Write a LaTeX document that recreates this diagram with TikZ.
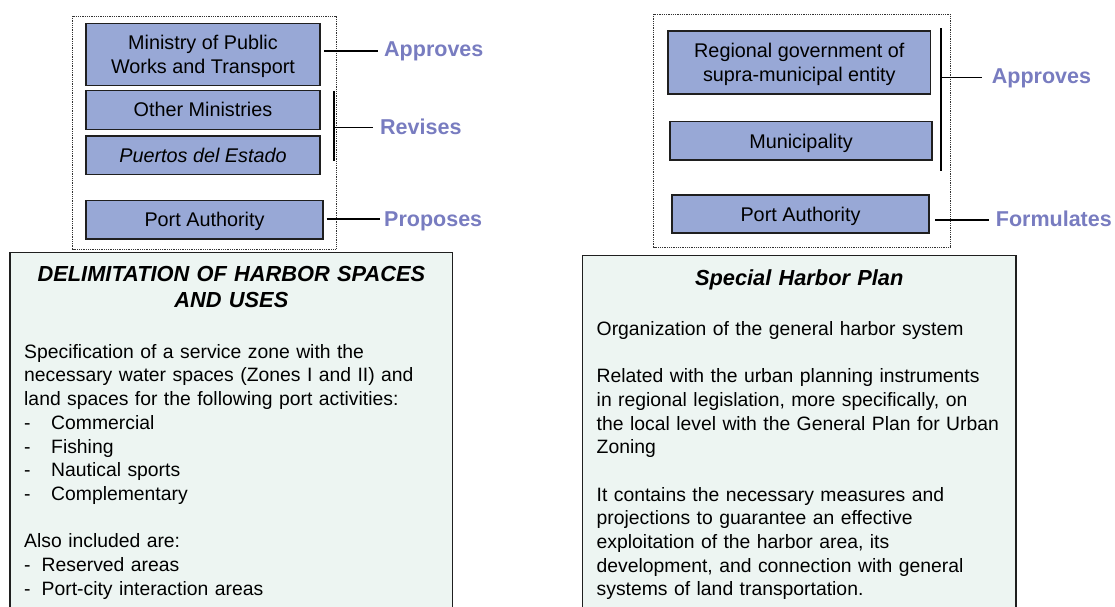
\documentclass[tikz,border=0pt]{standalone}
\usepackage{fontspec}
\setmainfont{Liberation Sans}
\definecolor{boxblue}{RGB}{152,168,214}
\definecolor{verbblue}{RGB}{120,124,192}
\definecolor{mint}{RGB}{237,245,242}
% zero the depth of a line so that boxes centre on the capitals
\newcommand{\nodepth}[1]{\raisebox{0pt}[\height][0pt]{#1}}
\newcommand{\dashitem}[2]{\makebox[#1][l]{-}#2}
\begin{document}
\begin{tikzpicture}[x=1pt,y=-1pt,
  actor/.style={draw=black!88, line width=1.3pt, fill=boxblue, inner sep=0pt,
    align=center, font=\fontsize{19.8}{24}\selectfont},
  verb/.style={text=verbblue, font=\fontsize{21.5}{26}\selectfont\bfseries,
    inner sep=0pt, anchor=base west},
  plan/.style={draw=black!88, line width=1.3pt, fill=mint},
  frame/.style={draw=black!80, line width=0.9pt, dash pattern=on 0.9pt off 0.9pt},
  link/.style={draw=black, line width=1.3pt},
  bar/.style={draw=black, line width=2pt},
  body/.style={anchor=north west, inner sep=0pt, align=left, text width=430pt,
    font=\fontsize{19.35}{23.7}\selectfont},
  heading/.style={inner sep=0pt, align=center, text width=440pt,
    font=\fontsize{21.8}{26.7}\selectfont\bfseries\itshape},
]
\useasboundingbox (0,0) rectangle (1115,606);

% ---------- left: delimitation of harbor spaces ----------
\draw[frame] (72.7,16) rectangle (336,249);
\node[actor, minimum width=234pt, minimum height=62.4pt] (ministry) at (203,54.5)
  {Ministry of Public\\\nodepth{Works and Transport}};
\node[actor, minimum width=234pt, minimum height=39pt] (others) at (203,109.8)
  {\nodepth{Other Ministries}};
\node[actor, minimum width=234pt, minimum height=38.7pt] (puertos) at (203,155.3)
  {\nodepth{\itshape Puertos del Estado}};
\node[actor, minimum width=237pt, minimum height=38.7pt] (authL) at (204.5,219.7)
  {\nodepth{Port Authority}};

\node[verb] (approvesL) at (384,56.7) {Approves};
\node[verb] (revises) at (380,134) {Revises};
\node[verb] (proposes) at (384,226.7) {Proposes};

\coordinate (apL1) at (324.3,51);   \coordinate (apL2) at (378.3,51);
\draw[link] (apL1) -- (apL2);
\coordinate (revTop) at (334,91);   \coordinate (revBot) at (334,160.7);
\coordinate (revMid) at (334,127.3); \coordinate (revEnd) at (373,127.3);
\draw[bar] (revTop) -- (revBot);
\draw[link] (revMid) -- (revEnd);
\coordinate (prL1) at (326.7,219);  \coordinate (prL2) at (380,219);
\draw[link] (prL1) -- (prL2);

\draw[plan] (10,252.7) rectangle (452.5,620);
\node[heading, anchor=north] (delim) at (231.4,264)
  {\rule{0pt}{17pt}DELIMITATION OF HARBOR SPACES\\AND USES};
\node[body] (delimtext) at (24,342) {\rule{0pt}{16pt}Specification of a service zone with the\\
necessary water spaces (Zones I and II) and\\
land spaces for the following port activities:\\
\dashitem{27pt}{Commercial}\\
\dashitem{27pt}{Fishing}\\
\dashitem{27pt}{Nautical sports}\\
\dashitem{27pt}{Complementary}\\[23.7pt]
Also included are:\\
\dashitem{17.5pt}{Reserved areas}\\
\dashitem{17.5pt}{Port-city interaction areas}};

% ---------- right: special harbor plan ----------
\draw[frame] (653.5,14) rectangle (950,247);
\node[actor, minimum width=262.5pt, minimum height=63pt] (regional) at (799.3,62.5)
  {Regional government of\\\nodepth{supra-municipal entity}};
\node[actor, minimum width=262pt, minimum height=38.3pt] (municipality) at (801,140.9)
  {\nodepth{Municipality}};
\node[actor, minimum width=257pt, minimum height=38pt] (authR) at (800.5,214)
  {\nodepth{Port Authority}};

\node[verb] (approvesR) at (991.7,83.3) {Approves};
\node[verb] (formulates) at (995.7,226.7) {Formulates};

\coordinate (apRTop) at (941,28.3);  \coordinate (apRBot) at (941,170.7);
\coordinate (apRMid) at (941,77.3);  \coordinate (apREnd) at (981.7,77.3);
\draw[bar] (apRTop) -- (apRBot);
\draw[link] (apRMid) -- (apREnd);
\coordinate (foR1) at (935,220);     \coordinate (foR2) at (989,220);
\draw[link] (foR1) -- (foR2);

\draw[plan] (582.3,255.3) rectangle (1016,620);
\node[heading, anchor=base] (special) at (799.2,285) {Special Harbor Plan};
\node[body] (specialtext) at (596.5,319) {\rule{0pt}{16pt}Organization of the general harbor system\\[23.7pt]
Related with the urban planning instruments\\
in regional legislation, more specifically, on\\
the local level with the General Plan for Urban\\
Zoning\\[23.7pt]
It contains the necessary measures and\\
projections to guarantee an effective\\
exploitation of the harbor area, its\\
development, and connection with general\\
systems of land transportation.};
\end{tikzpicture}
\end{document}
